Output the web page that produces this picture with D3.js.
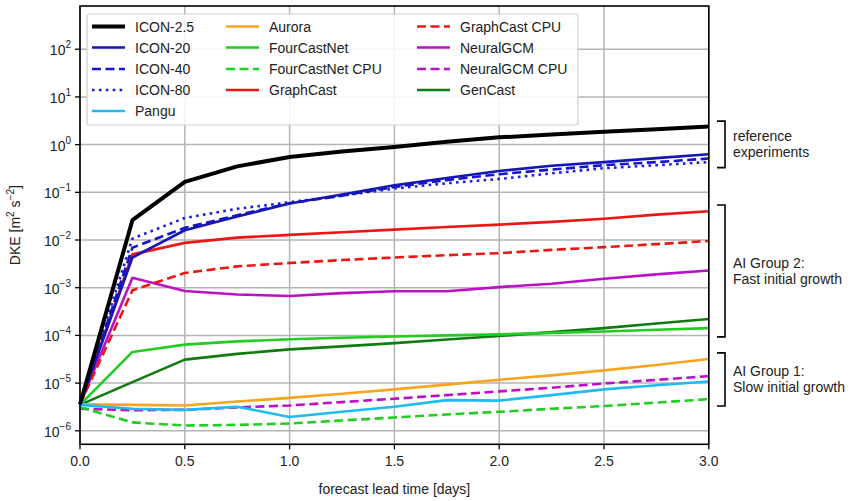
<!DOCTYPE html>
<html>
<head>
<meta charset="utf-8">
<script src="https://cdn.jsdelivr.net/npm/d3@7"></script>
<style>
  body { margin: 0; background: #fff; }
  svg text { font-family: "Liberation Sans", Arial, sans-serif; fill: #222; }
</style>
</head>
<body>
<div id="chart"></div>
<script>
// forecast lead times (days)
const leadTimes = [0, 0.25, 0.5, 0.75, 1.0, 1.25, 1.5, 1.75, 2.0, 2.25, 2.5, 2.75, 3.0];

// DKE values per experiment [m2 s-2]
const icon25   = [3.6e-6, 0.026, 0.165, 0.35, 0.55, 0.72, 0.89, 1.15, 1.42, 1.62, 1.85, 2.1, 2.4];
const icon20   = [3.6e-6, 0.0043, 0.016, 0.031, 0.058, 0.09, 0.14, 0.2, 0.28, 0.36, 0.43, 0.52, 0.63];
const icon40   = [3.6e-6, 0.0069, 0.018, 0.033, 0.059, 0.085, 0.13, 0.18, 0.24, 0.3, 0.37, 0.43, 0.51];
const icon80   = [3.6e-6, 0.0107, 0.029, 0.045, 0.062, 0.085, 0.12, 0.155, 0.19, 0.25, 0.32, 0.37, 0.43];
const pangu    = [3.5e-6, 2.9e-6, 2.75e-6, 3.2e-6, 1.95e-6, 2.5e-6, 3.2e-6, 4.4e-6, 4.3e-6, 5.6e-6, 7.4e-6, 9.0e-6, 1.08e-5];
const aurora   = [3.6e-6, 3.5e-6, 3.4e-6, 4.1e-6, 4.9e-6, 6.0e-6, 7.4e-6, 9.3e-6, 1.18e-5, 1.45e-5, 1.85e-5, 2.4e-5, 3.2e-5];
const fcn      = [3.5e-6, 4.5e-5, 6.4e-5, 7.5e-5, 8.3e-5, 8.9e-5, 9.5e-5, 1.0e-4, 1.05e-4, 1.13e-4, 1.21e-4, 1.31e-4, 1.42e-4];
const fcnCpu   = [3.1e-6, 1.5e-6, 1.29e-6, 1.33e-6, 1.42e-6, 1.65e-6, 1.9e-6, 2.2e-6, 2.5e-6, 2.9e-6, 3.3e-6, 3.9e-6, 4.6e-6];
const gc       = [3.6e-6, 0.005, 0.0087, 0.0112, 0.0128, 0.0145, 0.0165, 0.0187, 0.021, 0.024, 0.028, 0.034, 0.040];
const gcCpu    = [3.6e-6, 8.8e-4, 0.00204, 0.0028, 0.0033, 0.0038, 0.0043, 0.0048, 0.0053, 0.0062, 0.0071, 0.0082, 0.0095];
const ngcm     = [3.6e-6, 0.00162, 8.5e-4, 7.2e-4, 6.7e-4, 7.7e-4, 8.4e-4, 8.4e-4, 1.03e-3, 1.21e-3, 1.54e-3, 1.9e-3, 2.3e-3];
const ngcmCpu  = [2.9e-6, 2.7e-6, 2.75e-6, 3.1e-6, 3.4e-6, 4.0e-6, 4.7e-6, 5.6e-6, 6.7e-6, 8.0e-6, 9.8e-6, 1.17e-5, 1.4e-5];
const gencast  = [3.5e-6, 1.05e-5, 3.1e-5, 4.1e-5, 5.1e-5, 5.9e-5, 6.9e-5, 8.2e-5, 9.7e-5, 1.17e-4, 1.42e-4, 1.77e-4, 2.2e-4];

const seriesNames = ["ICON-2.5", "ICON-20", "ICON-40", "ICON-80", "Pangu",
  "Aurora", "FourCastNet", "FourCastNet CPU", "GraphCast",
  "GraphCast CPU", "NeuralGCM", "NeuralGCM CPU", "GenCast"];
const seriesValues = [icon25, icon20, icon40, icon80, pangu, aurora, fcn, fcnCpu, gc, gcCpu, ngcm, ngcmCpu, gencast];

const xTicks = [0, 0.5, 1.0, 1.5, 2.0, 2.5, 3.0];
const yTickExps = [-6, -5, -4, -3, -2, -1, 0, 1, 2];

// bracket annotations [low, high] in DKE units
const groups = [
  {lines: ["reference", "experiments"], range: [0.33, 3.1]},
  {lines: ["AI Group 2:", "Fast initial growth"], range: [9.3e-5, 0.054]},
  {lines: ["AI Group 1:", "Slow initial growth"], range: [3.3e-6, 4.3e-5]}
];

// styles
const style = {
  "ICON-2.5":        {color: "#000000", w: 4,   dash: null},
  "ICON-20":         {color: "#1515b8", w: 2.6, dash: null},
  "ICON-40":         {color: "#1515c8", w: 2.6, dash: "9,4.5"},
  "ICON-80":         {color: "#1c1ce0", w: 2.6, dash: "2.6,4.3"},
  "Pangu":           {color: "#1cbcf2", w: 2.6, dash: null},
  "Aurora":          {color: "#f8a41c", w: 2.6, dash: null},
  "FourCastNet":     {color: "#22cc22", w: 2.6, dash: null},
  "FourCastNet CPU": {color: "#22cc22", w: 2.6, dash: "9,4.5"},
  "GraphCast":       {color: "#ee1515", w: 2.6, dash: null},
  "GraphCast CPU":   {color: "#ee1515", w: 2.6, dash: "9,4.5"},
  "NeuralGCM":       {color: "#bb10c8", w: 2.6, dash: null},
  "NeuralGCM CPU":   {color: "#bb10c8", w: 2.6, dash: "9,4.5"},
  "GenCast":         {color: "#117a11", w: 2.6, dash: null}
};

const W = 859, H = 501;
const margin = {left: 80, right: 708.8, top: 6, bottom: 444.3};

const svg = d3.select("#chart").append("svg")
  .attr("width", W).attr("height", H);

const x = d3.scaleLinear().domain([0, 3]).range([margin.left, margin.right]);
const y = d3.scaleLog().domain([Math.pow(10, -6.283), Math.pow(10, 2.906)]).range([margin.bottom, margin.top]);

// grid
svg.append("g").selectAll("line").data(xTicks).enter().append("line")
  .attr("x1", d => x(d)).attr("x2", d => x(d))
  .attr("y1", margin.top).attr("y2", margin.bottom)
  .attr("stroke", "#b4b4b4").attr("stroke-width", 1.5);
svg.append("g").selectAll("line").data(yTickExps).enter().append("line")
  .attr("x1", margin.left).attr("x2", margin.right)
  .attr("y1", d => y(Math.pow(10, d))).attr("y2", d => y(Math.pow(10, d)))
  .attr("stroke", "#b4b4b4").attr("stroke-width", 1.5);

// lines
const plot = svg.append("g");
const line = d3.line().x(d => x(d[0])).y(d => y(d[1]));
// draw in reverse order so ICON-2.5 ends on top
seriesNames.slice().reverse().forEach(name => {
  const vals = seriesValues[seriesNames.indexOf(name)];
  const s = style[name];
  plot.append("path")
    .datum(leadTimes.map((t, i) => [t, vals[i]]))
    .attr("d", line)
    .attr("fill", "none")
    .attr("stroke", s.color)
    .attr("stroke-width", s.w)
    .attr("stroke-linejoin", "round")
    .attr("stroke-dasharray", s.dash);
});

// frame
svg.append("rect")
  .attr("x", margin.left).attr("y", margin.top)
  .attr("width", margin.right - margin.left).attr("height", margin.bottom - margin.top)
  .attr("fill", "none").attr("stroke", "#000").attr("stroke-width", 1.6);

// x axis ticks
const xa = svg.append("g");
xTicks.forEach(t => {
  xa.append("line").attr("x1", x(t)).attr("x2", x(t))
    .attr("y1", margin.bottom).attr("y2", margin.bottom + 5).attr("stroke", "#000").attr("stroke-width", 1.3);
  xa.append("text").attr("x", x(t)).attr("y", margin.bottom + 22)
    .attr("text-anchor", "middle").style("font-size", "14px")
    .text(t.toFixed(1));
});
svg.append("text").attr("x", (margin.left + margin.right) / 2).attr("y", 494)
  .attr("text-anchor", "middle").style("font-size", "14px")
  .text("forecast lead time [days]");

// y axis ticks
const ya = svg.append("g");
yTickExps.forEach(e => {
  const yy = y(Math.pow(10, e));
  ya.append("line").attr("x1", margin.left - 5).attr("x2", margin.left)
    .attr("y1", yy).attr("y2", yy).attr("stroke", "#000").attr("stroke-width", 1.3);
  const t = ya.append("text").attr("x", margin.left - 9).attr("y", yy + 6)
    .attr("text-anchor", "end").style("font-size", "14px");
  t.append("tspan").text("10");
  t.append("tspan").attr("dy", -7).style("font-size", "10px")
    .text(e < 0 ? "\u2212" + (-e) : String(e));
});
const yl = svg.append("text")
  .attr("transform", "translate(20," + ((margin.top + margin.bottom) / 2) + ") rotate(-90)")
  .attr("text-anchor", "middle").style("font-size", "14px");
yl.append("tspan").text("DKE [m");
yl.append("tspan").attr("dy", -6).style("font-size", "10px").text("2");
yl.append("tspan").attr("dy", 6).text(" s");
yl.append("tspan").attr("dy", -6).style("font-size", "10px").text("\u22122");
yl.append("tspan").attr("dy", 6).text("]");

// legend
const lg = svg.append("g");
lg.append("rect").attr("x", 87).attr("y", 14).attr("width", 491).attr("height", 111)
  .attr("rx", 3).attr("fill", "#fff").attr("fill-opacity", 0.85)
  .attr("stroke", "#d0d0d0").attr("stroke-width", 1.2);
const colX = [92, 226, 417];
const rowY = [26.5, 47.5, 69, 90, 111];
seriesNames.forEach((name, i) => {
  const col = i < 5 ? 0 : (i < 9 ? 1 : 2);
  const row = i < 5 ? i : (i < 9 ? i - 5 : i - 9);
  const s = style[name];
  const lx = colX[col], ly = rowY[row];
  lg.append("line").attr("x1", lx).attr("x2", lx + 33).attr("y1", ly).attr("y2", ly)
    .attr("stroke", s.color).attr("stroke-width", s.w).attr("stroke-dasharray", s.dash);
  lg.append("text").attr("x", lx + 43).attr("y", ly + 5)
    .style("font-size", "14px").text(name);
});

// group brackets
const ann = svg.append("g");
groups.forEach(g => {
  const y1 = y(g.range[1]), y2 = y(g.range[0]);
  ann.append("path")
    .attr("d", "M717," + y1 + "H725V" + y2 + "H717")
    .attr("fill", "none").attr("stroke", "#000").attr("stroke-width", 1.6);
  const mid = (y1 + y2) / 2;
  g.lines.forEach((l, k) => {
    ann.append("text").attr("x", 733).attr("y", mid - 3 + k * 16)
      .style("font-size", "14px").text(l);
  });
});
</script>
</body>
</html>
